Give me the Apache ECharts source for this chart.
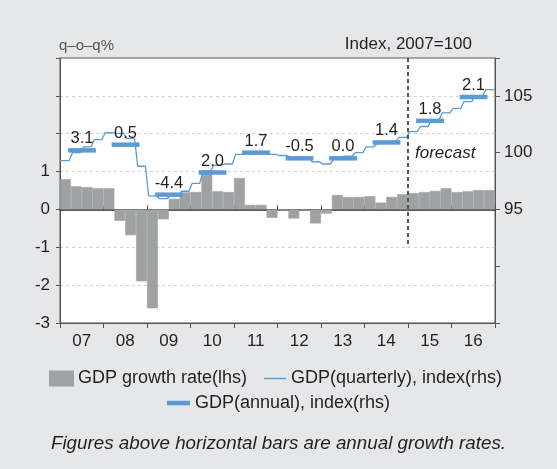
<!DOCTYPE html>
<html><head><meta charset="utf-8">
<script src="https://cdn.jsdelivr.net/npm/echarts@6/dist/echarts.min.js"></script>
<style>html,body{margin:0;padding:0;background:#e6e7e8;}#c{width:557px;height:469px;}</style>
</head><body><div id="c"></div>
<script>
// ---- data ----
const years = ['07','08','09','10','11','12','13','14','15','16'];
const quarters = years.flatMap(y => ['Q1','Q2','Q3','Q4'].map(q => y + q));
// q-o-q GDP growth, % (lhs)
const growth = [
  0.80, 0.61, 0.59, 0.56,
  0.56, -0.30, -0.68, -1.90,
  -2.61, -0.26, 0.28, 0.45,
  0.46, 0.95, 0.48, 0.46,
  0.83, 0.12, 0.12, -0.22,
  -0.03, -0.24, -0.03, -0.37,
  -0.11, 0.38, 0.33, 0.33,
  0.35, 0.18, 0.33, 0.40,
  0.43, 0.46, 0.49, 0.56,
  0.46, 0.48, 0.51, 0.51
];
// quarterly GDP index, 2007=100 (rhs)
const quarterlyIndex = [
  99.3, 100.0, 100.5, 101.15,
  101.75, 101.7, 101.25, 98.8,
  96.2, 95.95, 96.2, 96.6,
  97.3, 98.4, 98.9, 99.0,
  99.85, 100.05, 100.0, 99.85,
  99.75, 99.6, 99.6, 99.2,
  99.0, 99.4, 99.7, 100.0,
  100.5, 100.8, 100.97, 101.35,
  101.85, 102.3, 102.9, 103.5,
  103.9, 104.5, 104.95, 105.55
];
// annual GDP index (rhs) and annual growth labels
const annualIndex = [100.2, 100.7, 96.3, 98.25, 100.0, 99.5, 99.5, 100.9, 102.8, 104.9];
const annualGrowth = ['3.1', '0.5', '-4.4', '2.0', '1.7', '-0.5', '0.0', '1.4', '1.8', '2.1'];
const forecastStartQuarter = 32;
const leftTicks = [-3, -2, -1, 0, 1];
const rightTicks = [95, 100, 105];

// ---- styles ----
const BLUE = '#5b9bd5';
const GRAY = '#a0a1a3';
const TXT = '#231f20';
const FONT = '"Liberation Sans", Arial, Helvetica, sans-serif';

const lineData = [];
quarterlyIndex.forEach((v, i) => {
  lineData.push([i === 0 ? 0 : i + 0.15, v]);
  lineData.push([i === quarterlyIndex.length - 1 ? quarterlyIndex.length : i + 0.85, v]);
});

const chart = echarts.init(document.getElementById('c'), null, {renderer: 'canvas'});
chart.setOption({
  animation: false,
  backgroundColor: '#e6e7e8',
  textStyle: {fontFamily: FONT},
  grid: {left: 60, right: 62, top: 58, bottom: 146, show: true, backgroundColor: '#ffffff', borderColor: '#555', borderWidth: 1},
  xAxis: [
    {type: 'category', data: years, position: 'bottom',
     axisLine: {onZero: false, lineStyle: {color: '#555', width: 1}},
     axisTick: {show: true, length: 5, lineStyle: {color: '#555'}},
     axisLabel: {fontSize: 17, color: TXT, margin: 10, fontFamily: FONT},
     splitLine: {show: false}},
    {type: 'category', data: quarters, show: false, axisLine: {onZero: false}},
    {type: 'value', min: 0, max: quarters.length, show: false, axisLine: {onZero: false}},
    {type: 'category', data: years, position: 'top',
     axisLine: {onZero: true, onZeroAxisIndex: 0, lineStyle: {color: '#222', width: 1.5}},
     axisTick: {show: true, length: 4, inside: false, lineStyle: {color: '#444'}},
     axisLabel: {show: false}, splitLine: {show: false}}
  ],
  yAxis: [
    {type: 'value', min: -3, max: 4, interval: 1, position: 'left',
     axisLine: {show: true, onZero: false, lineStyle: {color: '#555', width: 1}},
     axisTick: {show: true, length: 4, lineStyle: {color: '#555'}},
     axisLabel: {formatter: v => leftTicks.includes(v) ? String(v) : '', fontSize: 17, color: TXT, margin: 10, fontFamily: FONT},
     splitLine: {show: true, showMinLine: false, showMaxLine: false, lineStyle: {color: '#d2d2d2', type: [3, 3], width: 1}}},
    {type: 'value', min: 85, max: 85 + 70 / 3, interval: 5, position: 'right',
     axisLine: {show: true, onZero: false, lineStyle: {color: '#555', width: 1}},
     axisTick: {show: true, length: 5, lineStyle: {color: '#555'}},
     axisLabel: {formatter: v => rightTicks.includes(v) ? String(v) : '', fontSize: 17, color: TXT, margin: 9, fontFamily: FONT},
     splitLine: {show: false}}
  ],
  legend: [
    {left: 49, top: 369.5, padding: 0, itemWidth: 23, itemHeight: 14,
     data: [{name: 'GDP growth rate(lhs)', icon: 'rect', itemStyle: {color: GRAY}}],
     textStyle: {fontSize: 18, color: TXT, fontFamily: FONT}, selectedMode: false},
    {left: 264, top: 369.5, padding: 0, itemWidth: 22, itemHeight: 1.5,
     data: [{name: 'GDP(quarterly), index(rhs)', icon: 'rect', itemStyle: {color: BLUE}}],
     textStyle: {fontSize: 18, color: TXT, fontFamily: FONT}, selectedMode: false},
    {left: 'center', top: 394, padding: 0, itemWidth: 23, itemHeight: 4.5,
     data: [{name: 'GDP(annual), index(rhs)', icon: 'rect', itemStyle: {color: BLUE}}],
     textStyle: {fontSize: 18, color: TXT, fontFamily: FONT}, selectedMode: false}
  ],
  graphic: [
    {type: 'text', left: 59, top: 38, style: {text: 'q–o–q%', fill: '#555', font: '15px ' + FONT}},
    {type: 'text', right: 85, top: 36, style: {text: 'Index, 2007=100', fill: TXT, font: '17px ' + FONT}},
    {type: 'text', left: 415, top: 145, style: {text: 'forecast', fill: TXT, font: 'italic 17px ' + FONT}},
    {type: 'text', left: 'center', top: 434, style: {text: 'Figures above horizontal bars are annual growth rates.', fill: TXT, font: 'italic 18.8px ' + FONT}}
  ],
  series: [
    {name: 'GDP growth rate(lhs)', type: 'bar', xAxisIndex: 1, yAxisIndex: 0, data: growth,
     barCategoryGap: '0%', barGap: '0%', itemStyle: {color: GRAY, borderColor: GRAY, borderWidth: 0.6}, z: 2},
    {name: 'GDP(quarterly), index(rhs)', type: 'line', xAxisIndex: 2, yAxisIndex: 1, data: lineData,
     symbol: 'none', lineStyle: {color: BLUE, width: 1.3}, itemStyle: {color: BLUE}, z: 3},
    {name: 'GDP(annual), index(rhs)', type: 'custom', xAxisIndex: 2, yAxisIndex: 1,
     data: annualIndex.map((v, i) => [i * 4 + 2, v]), itemStyle: {color: BLUE}, z: 4,
     renderItem: (params, api) => {
       const c = api.value(0), v = api.value(1);
       const a = api.coord([c - 1.25, v]);
       const b = api.coord([c + 1.3, v]);
       return {type: 'group', children: [
         {type: 'line', shape: {x1: a[0], y1: a[1], x2: b[0], y2: b[1]}, style: {stroke: BLUE, lineWidth: 4.5}},
         {type: 'text', style: {text: annualGrowth[params.dataIndex], x: (a[0] + b[0]) / 2, y: a[1] - 3,
           align: 'center', verticalAlign: 'bottom', font: '16.5px ' + FONT, fill: TXT}}
       ]};
     }},
    {name: 'forecast', type: 'line', xAxisIndex: 2, yAxisIndex: 0,
     data: [[forecastStartQuarter, 4], [forecastStartQuarter, -1]], symbol: 'none',
     lineStyle: {color: '#555', width: 2, type: [4, 3]}, z: 5}
  ]
});
</script></body></html>
